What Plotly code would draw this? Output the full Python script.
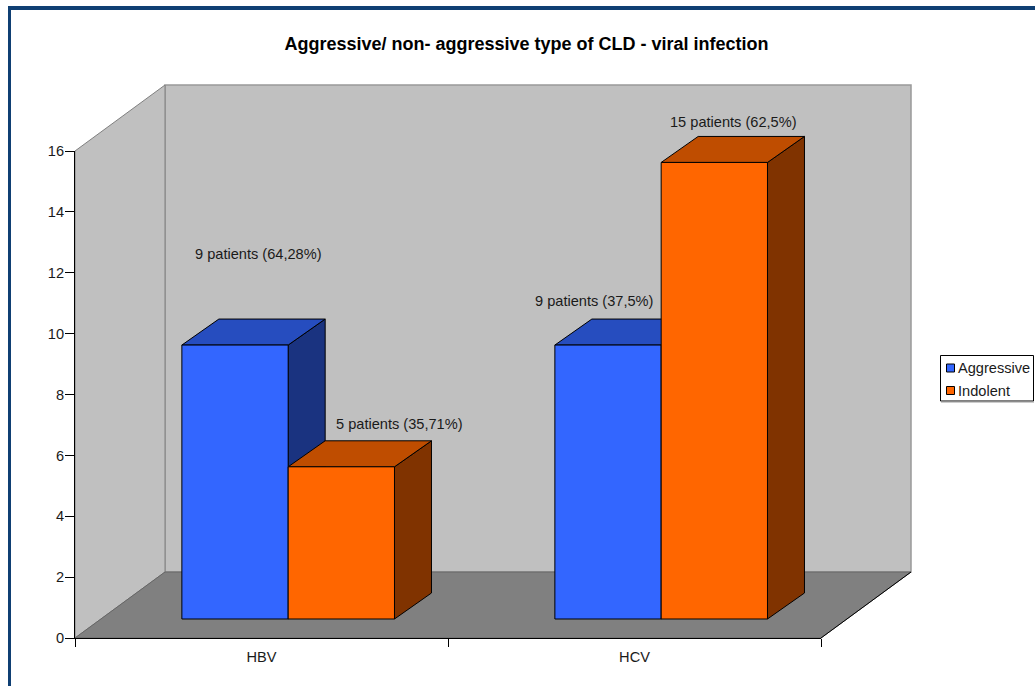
"""Faux 3D clustered bars: aggressive vs indolent CLD by viral infection."""

import plotly.graph_objects as go

W, H = 1035, 686

# data
categories = ["HBV", "HCV"]
aggressive = [9, 9]
indolent = [5, 15]
aggressive_labels = ["9 patients (64,28%)", "9 patients (37,5%)"]
indolent_labels = ["5 patients (35,71%)", "15 patients (62,5%)"]
y_ticks = [0, 2, 4, 6, 8, 10, 12, 14, 16]

FONT = "Liberation Sans, Arial, sans-serif"
TEXT_SIZE = 14.6
TEXT_COLOR = "#1A1A1A"
BLUE = ("#3366FF", "#264DBF", "#1A3380")  # front, top, side
ORANGE = ("#FF6600", "#BF4D00", "#803300")

# plot box in pixels: x axis 75-821, y axis 638 (0) to 151 (16)
X0, X1, Y0, Y16 = 75, 821, 638, 151
PX_X = (X1 - X0) / len(categories)
PX_Y = (Y0 - Y16) / 16


def ux(px):
    return (px - X0) / PX_X


def uy(px):
    return (Y0 - px) / PX_Y


# depth steps in axis units
WALL_DX, WALL_DY = 90 / PX_X, 66 / PX_Y
BAR_DX, BAR_DY = 37 / PX_X, 26 / PX_Y
BAR_BASE = 19 / PX_Y
BAR_W = 0.285
BAR_START = 0.2865


def poly(xs, ys, fill, line, width=1):
    return go.Scatter(
        x=xs + xs[:1], y=ys + ys[:1], mode="lines", fill="toself", fillcolor=fill,
        line=dict(color=line, width=width), hoverinfo="skip", showlegend=False,
        xaxis="x", yaxis="y",
    )


def box(left, value, colors):
    top = value + BAR_BASE
    right = left + BAR_W
    return [
        poly([right, right + BAR_DX, right + BAR_DX, right],
             [BAR_BASE, BAR_BASE + BAR_DY, top + BAR_DY, top], colors[2], "black"),
        poly([left, left + BAR_DX, right + BAR_DX, right],
             [top, top + BAR_DY, top + BAR_DY, top], colors[1], "black"),
        poly([left, right, right, left],
             [BAR_BASE, BAR_BASE, top, top], colors[0], "black"),
    ]


fig = go.Figure()

# back wall, side wall, floor
fig.add_trace(poly([WALL_DX, 2 + WALL_DX, 2 + WALL_DX, WALL_DX],
                   [WALL_DY, WALL_DY, 16 + WALL_DY, 16 + WALL_DY], "#C0C0C0", "#999999", 1.5))
fig.add_trace(poly([0, WALL_DX, WALL_DX, 0], [0, WALL_DY, 16 + WALL_DY, 16], "#C0C0C0", "#808080"))
fig.add_trace(poly([0, 2, 2 + WALL_DX, WALL_DX], [0, 0, WALL_DY, WALL_DY], "#808080", "#666666"))
fig.add_trace(go.Scatter(x=[2, 2 + WALL_DX], y=[0, WALL_DY], mode="lines", line=dict(color="black", width=1),
                         hoverinfo="skip", showlegend=False))

for i in range(len(categories)):
    for trace in box(i + BAR_START, aggressive[i], BLUE) + box(i + BAR_START + BAR_W, indolent[i], ORANGE):
        fig.add_trace(trace)

# hand-built legend, the native one cannot get this tight
for name, color, py in [("Aggressive", BLUE[0], 368), ("Indolent", ORANGE[0], 390.5)]:
    fig.add_trace(go.Scatter(
        x=[ux(950.5)], y=[uy(py)], mode="markers", name=name,
        marker=dict(symbol="square", size=8, color=color, line=dict(color="black", width=1)),
        cliponaxis=False, showlegend=False, hoverinfo="skip",
    ))
    fig.add_annotation(x=ux(958), y=uy(py), xref="x", yref="y", text=name, showarrow=False,
                       xanchor="left", borderpad=0, borderwidth=0,
                       font=dict(family=FONT, size=TEXT_SIZE, color=TEXT_COLOR))

# dummy trace so the visible axes get their own subplot on top
fig.add_trace(go.Scatter(x=[None], y=[None], xaxis="x2", yaxis="y2", showlegend=False))

label_pos = [
    (aggressive_labels[0], 258, 254), (indolent_labels[0], 399.5, 424),
    (aggressive_labels[1], 594, 301), (indolent_labels[1], 733, 122),
]
for text, px, py in label_pos:
    fig.add_annotation(x=ux(px), y=uy(py), xref="x", yref="y", text=text, showarrow=False,
                       font=dict(family=FONT, size=TEXT_SIZE, color=TEXT_COLOR))

fig.update_layout(
    width=W, height=H, autosize=False,
    margin=dict(l=0, r=0, t=0, b=0),
    paper_bgcolor="white", plot_bgcolor="rgba(0,0,0,0)",
    showlegend=False,
    title=dict(text="<b>Aggressive/ non- aggressive type of CLD - viral infection</b>",
               x=526.5 / W, xanchor="center", y=1 - 44 / H, yanchor="middle",
               font=dict(family=FONT, size=18, color="black")),
    xaxis=dict(domain=[0, 1], range=[ux(0), ux(W)], visible=False, automargin=False),
    yaxis=dict(domain=[0, 1], range=[uy(H), uy(0)], visible=False, automargin=False),
    xaxis2=dict(domain=[X0 / W, X1 / W], range=[0, 2], anchor="y2", showgrid=False, zeroline=False,
                automargin=False, showline=True, linecolor="black", linewidth=1,
                tickmode="array", tickvals=[0.5, 1.5], ticktext=categories, ticks="", ticklabelstandoff=5,
                tickfont=dict(family=FONT, size=TEXT_SIZE, color=TEXT_COLOR),
                minor=dict(ticks="outside", tickmode="array", tickvals=[0, 1, 2], ticklen=8, tickcolor="black",
                           showgrid=False)),
    yaxis2=dict(domain=[1 - Y0 / H, 1 - Y16 / H], range=[0, 16], anchor="x2", showgrid=False, zeroline=False,
                automargin=False, showline=True, linecolor="black", linewidth=1,
                tickmode="array", tickvals=y_ticks, ticks="outside", ticklen=9, tickcolor="black",
                ticklabelstandoff=-2,
                tickfont=dict(family=FONT, size=TEXT_SIZE, color=TEXT_COLOR)),
    shapes=[
        # chart frame, cut off on the right and bottom
        dict(type="rect", xref="paper", yref="paper", x0=8 / W, x1=11 / W, y0=0, y1=1 - 6 / H,
             fillcolor="#0F3F73", line_width=0, layer="above"),
        dict(type="rect", xref="paper", yref="paper", x0=8 / W, x1=1, y0=1 - 10 / H, y1=1 - 6 / H,
             fillcolor="#0F3F73", line_width=0, layer="above"),
        # legend box and its soft lower edge
        dict(type="rect", xref="paper", yref="paper", x0=940.5 / W, x1=1033.5 / W, y0=1 - 401 / H, y1=1 - 355.5 / H,
             fillcolor="rgba(0,0,0,0)", line=dict(color="black", width=1), layer="above"),
        dict(type="line", xref="paper", yref="paper", x0=941 / W, x1=1034 / W, y0=1 - 402 / H, y1=1 - 402 / H,
             line=dict(color="#999999", width=1), layer="above"),
    ],
)

fig.write_html("out.html", config=dict(displayModeBar=False),
               post_script="document.body.style.margin='0';document.body.style.overflow='hidden';")
